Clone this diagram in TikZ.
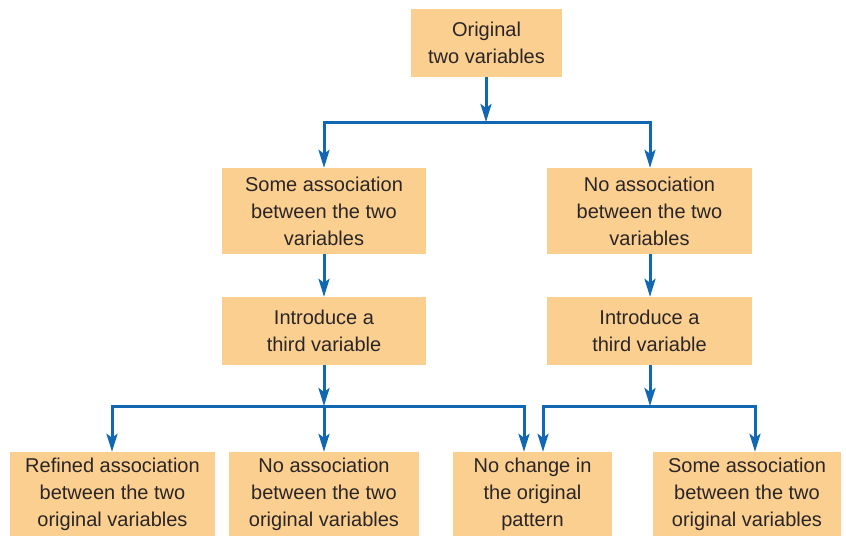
\documentclass[tikz,border=0pt]{standalone}
\usepackage{fontspec}
\setmainfont{Liberation Sans}
\usetikzlibrary{arrows.meta}
\definecolor{boxfill}{HTML}{FBCF8F}
\definecolor{txt}{HTML}{2A2526}
\definecolor{arr}{HTML}{1267B3}
\begin{document}
\begin{tikzpicture}[x=1pt,y=-1pt,
  box/.style={fill=boxfill,draw=none,text=txt,align=center,inner sep=0pt,
    font=\fontsize{20}{27}\selectfont},
  conn/.style={draw=arr,line width=3pt,-{Stealth[length=18pt,width=11pt,inset=4pt]}},
  plain/.style={draw=arr,line width=3pt,line cap=rect}]
\useasboundingbox (0,0) rectangle (846,536);
\node[box,minimum width=151pt,minimum height=68pt] (top) at (486.5,43) {Original\\two variables};
\node[box,minimum width=204pt,minimum height=86pt] (l2l) at (324,211) {Some association\\between the two\\variables};
\node[box,minimum width=205pt,minimum height=86pt] (l2r) at (649.5,211) {No association\\between the two\\variables};
\node[box,minimum width=204pt,minimum height=68pt] (l3l) at (324,331) {Introduce a\\third variable};
\node[box,minimum width=205pt,minimum height=68pt] (l3r) at (649.5,331) {Introduce a\\third variable};
\node[box,minimum width=205pt,minimum height=84pt] (b1) at (112.5,494) {Refined association\\between the two\\original variables};
\node[box,minimum width=190pt,minimum height=84pt] (b2) at (324,494) {No association\\between the two\\original variables};
\node[box,minimum width=159pt,minimum height=84pt] (b3) at (532.5,494) {No change in\\the original\\pattern};
\node[box,minimum width=188pt,minimum height=84pt] (b4) at (747,494) {Some association\\between the two\\original variables};
% junctions
\coordinate (j1) at (486,122);
\coordinate (j1l) at (324,122);
\coordinate (j1r) at (650,122);
\coordinate (j2) at (324,406);
\coordinate (j2l) at (112,406);
\coordinate (j2r) at (524,406);
\coordinate (j3) at (650,406);
\coordinate (j3l) at (543,406);
\coordinate (j3r) at (755,406);
% top level
\draw[conn] (top.south -| j1) -- (j1);
\draw[plain] (j1l) -- (j1r);
\draw[conn] (j1l) -- (l2l.north -| j1l);
\draw[conn] (j1r) -- (l2r.north -| j1r);
% level 2 to 3
\draw[conn] (l2l.south -| j1l) -- (l3l.north -| j1l);
\draw[conn] (l2r.south -| j1r) -- (l3r.north -| j1r);
% left tree
\draw[conn] (l3l.south -| j2) -- (j2);
\draw[plain] (j2l) -- (j2r);
\draw[conn] (j2l) -- (b1.north -| j2l);
\draw[conn] (j2) -- (b2.north -| j2);
\draw[conn] (j2r) -- (b3.north -| j2r);
% right tree
\draw[conn] (l3r.south -| j3) -- (j3);
\draw[plain] (j3l) -- (j3r);
\draw[conn] (j3l) -- (b3.north -| j3l);
\draw[conn] (j3r) -- (b4.north -| j3r);
\end{tikzpicture}
\end{document}
